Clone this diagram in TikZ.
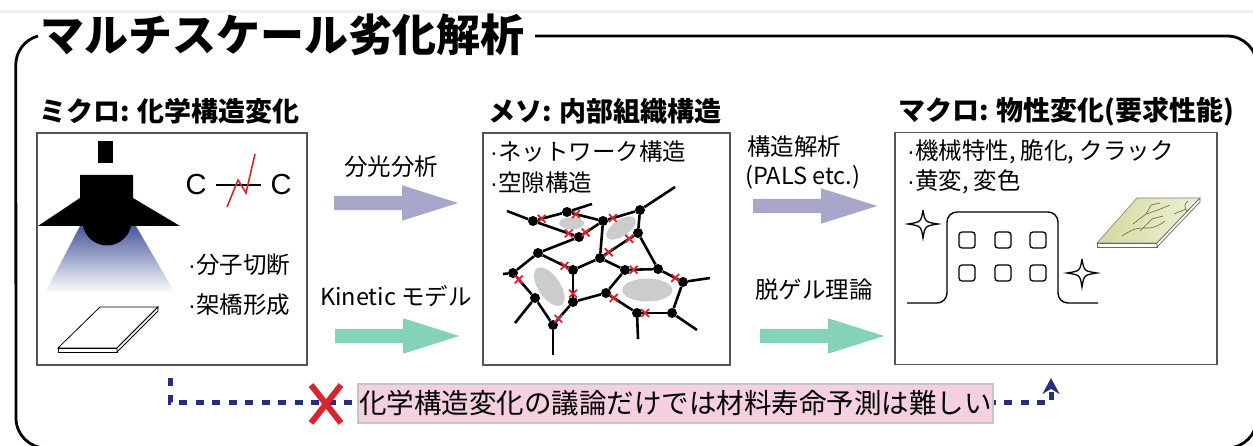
\documentclass[tikz,border=0pt]{standalone}
\usepackage{fontspec}
\setmainfont{Noto Sans CJK JP}
\newfontfamily\heavyfont{Noto Sans CJK JP Black}
\newfontfamily\latinfont{Liberation Sans}
\usetikzlibrary{arrows.meta,calc,shapes.arrows,shapes.misc}

\definecolor{lavender}{RGB}{168,167,201}
\definecolor{mint}{RGB}{132,211,182}
\definecolor{navy}{RGB}{40,46,126}
\definecolor{ngred}{RGB}{214,38,44}
\definecolor{notepink}{RGB}{245,208,225}
\definecolor{beam}{RGB}{72,88,156}
\definecolor{void}{RGB}{204,204,204}
\definecolor{aged}{RGB}{212,217,158}
\definecolor{framegray}{RGB}{85,85,85}

\newcommand\sz[1]{\fontsize{#1}{#1}\selectfont}
\newcommand\bul{{\latinfont ·}}

\begin{document}
\begin{tikzpicture}[x=1pt,y=-1pt,
  panel/.style={draw=framegray, line width=1.6, minimum width=#1, minimum height=232, inner sep=0},
  heading/.style={anchor=west, inner sep=0, font=\heavyfont\sz{27}},
  body/.style={anchor=west, inner sep=0, font=\sz{23.5}},
  fat/.style={single arrow, fill=#1, anchor=tail, inner xsep=0, inner ysep=7, minimum width=35,
    minimum height=124, single arrow head extend=10.5, single arrow tip angle=35},
  bond/.style={line width=2.6},
  dot/.style={circle, fill=black, inner sep=0, minimum size=10},
  cut/.style={cross out, draw=ngred, line width=1.8, inner sep=0, minimum size=6},
  hint/.style={navy, line width=5, dash pattern=on 8pt off 8.5pt}]
  \useasboundingbox (0,0) rectangle (1253,446);

  % top rule and outer frame
  \draw[gray!12, line width=3] (0,12) -- (1253,12);
  \draw[line width=2.8] (38,36) arc[start angle=-105, end angle=-180, radius=30]
    [rounded corners=30] -- (16,448) -- (1257,448) -- (1257,36) -- (535,36);
  \node[anchor=west, inner sep=0, font=\heavyfont\sz{44}] (title) at (40,35) {マルチスケール劣化解析};

  % three scales
  \node[panel=270] (micro) at (172,249) {};
  \node[panel=247] (meso) at (606.5,249) {};
  \node[panel=322] (macro) at (1056,248.5) {};
  \node[heading] (microhd) at (39,111) {ミクロ: 化学構造変化};
  \node[heading] (mesohd) at (488,111) {メソ: 内部組織構造};
  \node[heading] (macrohd) at (898,112) {マクロ: 物性変化(要求性能)};

  % micro: lamp, beam and sample
  \shade[top color=beam, bottom color=white] (80,226) -- (136,226) -- (175,293) -- (45,293) -- cycle;
  \fill (98,141) rectangle (113,163);
  \fill (107,221) circle (24.5);
  \fill (80,175) -- (133,175) -- (133,198) -- (180,226) -- (38,226) -- (80,198) -- cycle;
  \filldraw[fill=white, line width=0.8] (100,307) -- (158,307) -- (117,348) -- (58,348) -- cycle;
  \filldraw[fill=white, line width=0.8] (58,348) -- (117,348) -- (117,352) -- (58,352) -- cycle;
  \filldraw[fill=white, line width=0.8] (117,348) -- (158,307) -- (158,311) -- (117,352) -- cycle;
  \node[font=\latinfont\sz{29}, inner xsep=9.5, inner ysep=0] (c1) at (196,185) {C};
  \node[font=\latinfont\sz{29}, inner xsep=9.5, inner ysep=0] (c2) at (281,185) {C};
  \draw[line width=1.3] (c1) -- (c2);
  \draw[ngred, line width=1.6] (227,207) -- (238,180) -- (246,193) -- (255,154);
  \node[body] (scission) at (188,265) {\bul 分子切断};
  \node[body] (crosslink) at (188,305) {\bul 架橋形成};

  % meso: network with voids
  \node[body] (network) at (490,152) {\bul ネットワーク構造};
  \node[body] (pores) at (490,183) {\bul 空隙構造};
  \fill[void] (571.7,223.3) ellipse[x radius=12.5, y radius=6];
  \fill[void, rotate around={34:(621,228)}] (621,228) ellipse[x radius=17, y radius=8];
  \fill[void, rotate around={-56:(549.3,286.7)}] (549.3,286.7) ellipse[x radius=22, y radius=11];
  \fill[void] (647.3,290) ellipse[x radius=25, y radius=11.5];
  \foreach \n/\x/\y in {n1/533/221, n2/567/212, n3/579/237, n4/603/221, n5/640/210,
      n6/638/233, n7/538/253, n8/600/258, n9/513/273, n10/573/270, n11/625/270,
      n12/658/269, n13/535/298, n14/573/302, n15/606/293, n16/683/282,
      n17/553/325, n18/637/313, n19/672/313}
    \node[dot] (\n) at (\x,\y) {};
  \foreach \n/\x/\y in {d1/507/211, d2/592/204, d3/675/187, d4/503/274, d5/515/323,
      d6/553/355, d7/697/330, d8/710/278, d9/638/339}
    \coordinate (\n) at (\x,\y);
  \path[bond]
    (n1) edge node[cut,pos=.15]{} (n2) edge node[cut,pos=.85]{} (n3) edge (d1)
    (n2) edge node[cut,pos=.15]{} (n4) edge (d2)
    (n3) edge node[cut,pos=.15]{} (n4) edge (n7)
    (n4) edge node[cut,pos=.18]{} (n5) edge (n8)
    (n5) edge (n6) edge (d3)
    (n6) edge node[cut,pos=.15]{} node[cut,pos=.85]{} (n8) edge (n12)
    (n7) edge (n9) edge node[cut,pos=.85]{} (n10)
    (n8) edge (n10) edge (n11)
    (n9) edge (d4) edge node[cut,pos=.15]{} (n13)
    (n10) edge node[cut,pos=.85]{} (n14)
    (n11) edge node[cut,pos=.15]{} (n12) edge (n15)
    (n12) edge node[cut,pos=.8]{} (n16)
    (n13) edge (n17) edge (d5)
    (n17) edge node[cut,pos=.15]{} (n14) edge (d6)
    (n14) edge (n15)
    (n15) edge node[cut,pos=.15]{} (n18)
    (n18) edge node[cut,pos=.12]{} (n19) edge (d9)
    (n19) edge (n16) edge (d7)
    (n16) edge (d8);

  % macro: building, sparkles and aged sample
  \node[body] (mech) at (907,152) {\bul 機械特性, 脆化, クラック};
  \node[body] (yellow) at (907,182) {\bul 黄変, 変色};
  \draw[line width=1.4, rounded corners=10] (907,303) -- (947,303) -- (947,212) -- (1058,212) -- (1058,303) -- (1098,303);
  \foreach \x in {967,1003,1038}{
    \foreach \y in {240,273}{
      \draw[line width=1.3, rounded corners=3] (\x-8,\y-8) rectangle (\x+8,\y+8);
    }
  }
  \foreach \sx/\sy in {923/224, 1082/273}{
    \draw[line width=1.3, shift={(\sx,\sy)}] (0,-14) .. controls (2,-2) .. (15,0)
      .. controls (2,2) .. (0,14) .. controls (-2,2) .. (-15,0)
      .. controls (-2,-2) .. (0,-14);
  }
  \shade[left color=aged, right color=aged!40, draw=gray, line width=0.6] (1137,198) -- (1200,198) -- (1157,243) -- (1097,243) -- cycle;
  \filldraw[fill=white, draw=gray!80!black, line width=0.7] (1097,243) -- (1157,243) -- (1157,247) -- (1097,247) -- cycle;
  \filldraw[fill=white, draw=gray!80!black, line width=0.7] (1157,243) -- (1200,198) -- (1200,202) -- (1157,247) -- cycle;
  \draw[olive!70!black, line width=0.6] (1122,236) .. controls (1135,228) .. (1150,228) .. controls (1158,226) .. (1165,221);
  \draw[olive!70!black, line width=0.6] (1133,224) -- (1146,214) -- (1158,210) -- (1170,205);
  \draw[olive!70!black, line width=0.6] (1146,214) -- (1151,205) -- (1160,203);
  \draw[olive!70!black, line width=0.6] (1140,231) -- (1152,219) -- (1163,216);
  \draw[olive!70!black, line width=0.6] (1174,214) -- (1186,209);
  \draw[olive!70!black, line width=0.6] (1188,201) .. controls (1184,205) .. (1187,212);

  % links between scales
  \node[fat=lavender] (spec) at (334,203) {};
  \node[fat=mint] (kinetic) at (335,336) {};
  \node[fat=lavender] (pals) at (753,206) {};
  \node[fat=mint] (degel) at (760,336) {};
  \node[font=\sz{23.5}, inner sep=0] (speclbl) at (391,167) {分光分析};
  \node[font=\sz{23.5}, inner sep=0] (kinlbl) at (396,296) {Kinetic モデル};
  \node[body] (palslbl) at (747,147) {構造解析};
  \node[body] (palslbl2) at (745,177) {(PALS etc.)};
  \node[body] (degellbl) at (755,290) {脱ゲル理論};

  % the missing shortcut
  \coordinate (from) at (170,378);
  \coordinate (to) at (1051,378);
  \draw[hint, -{Stealth[length=16pt, width=17pt]}] (from) -- ++(0,24) -| (to);
  \node[cross out, draw=ngred, line width=6, inner sep=0, minimum width=24, minimum height=32] (ng) at (326,404) {};
  \node[fill=notepink, draw=gray!45, line width=2, minimum width=635, minimum height=39,
    inner sep=0, font=\sz{27.5}] (note) at (675.5,403.5) {化学構造変化の議論だけでは材料寿命予測は難しい};
\end{tikzpicture}
\end{document}
